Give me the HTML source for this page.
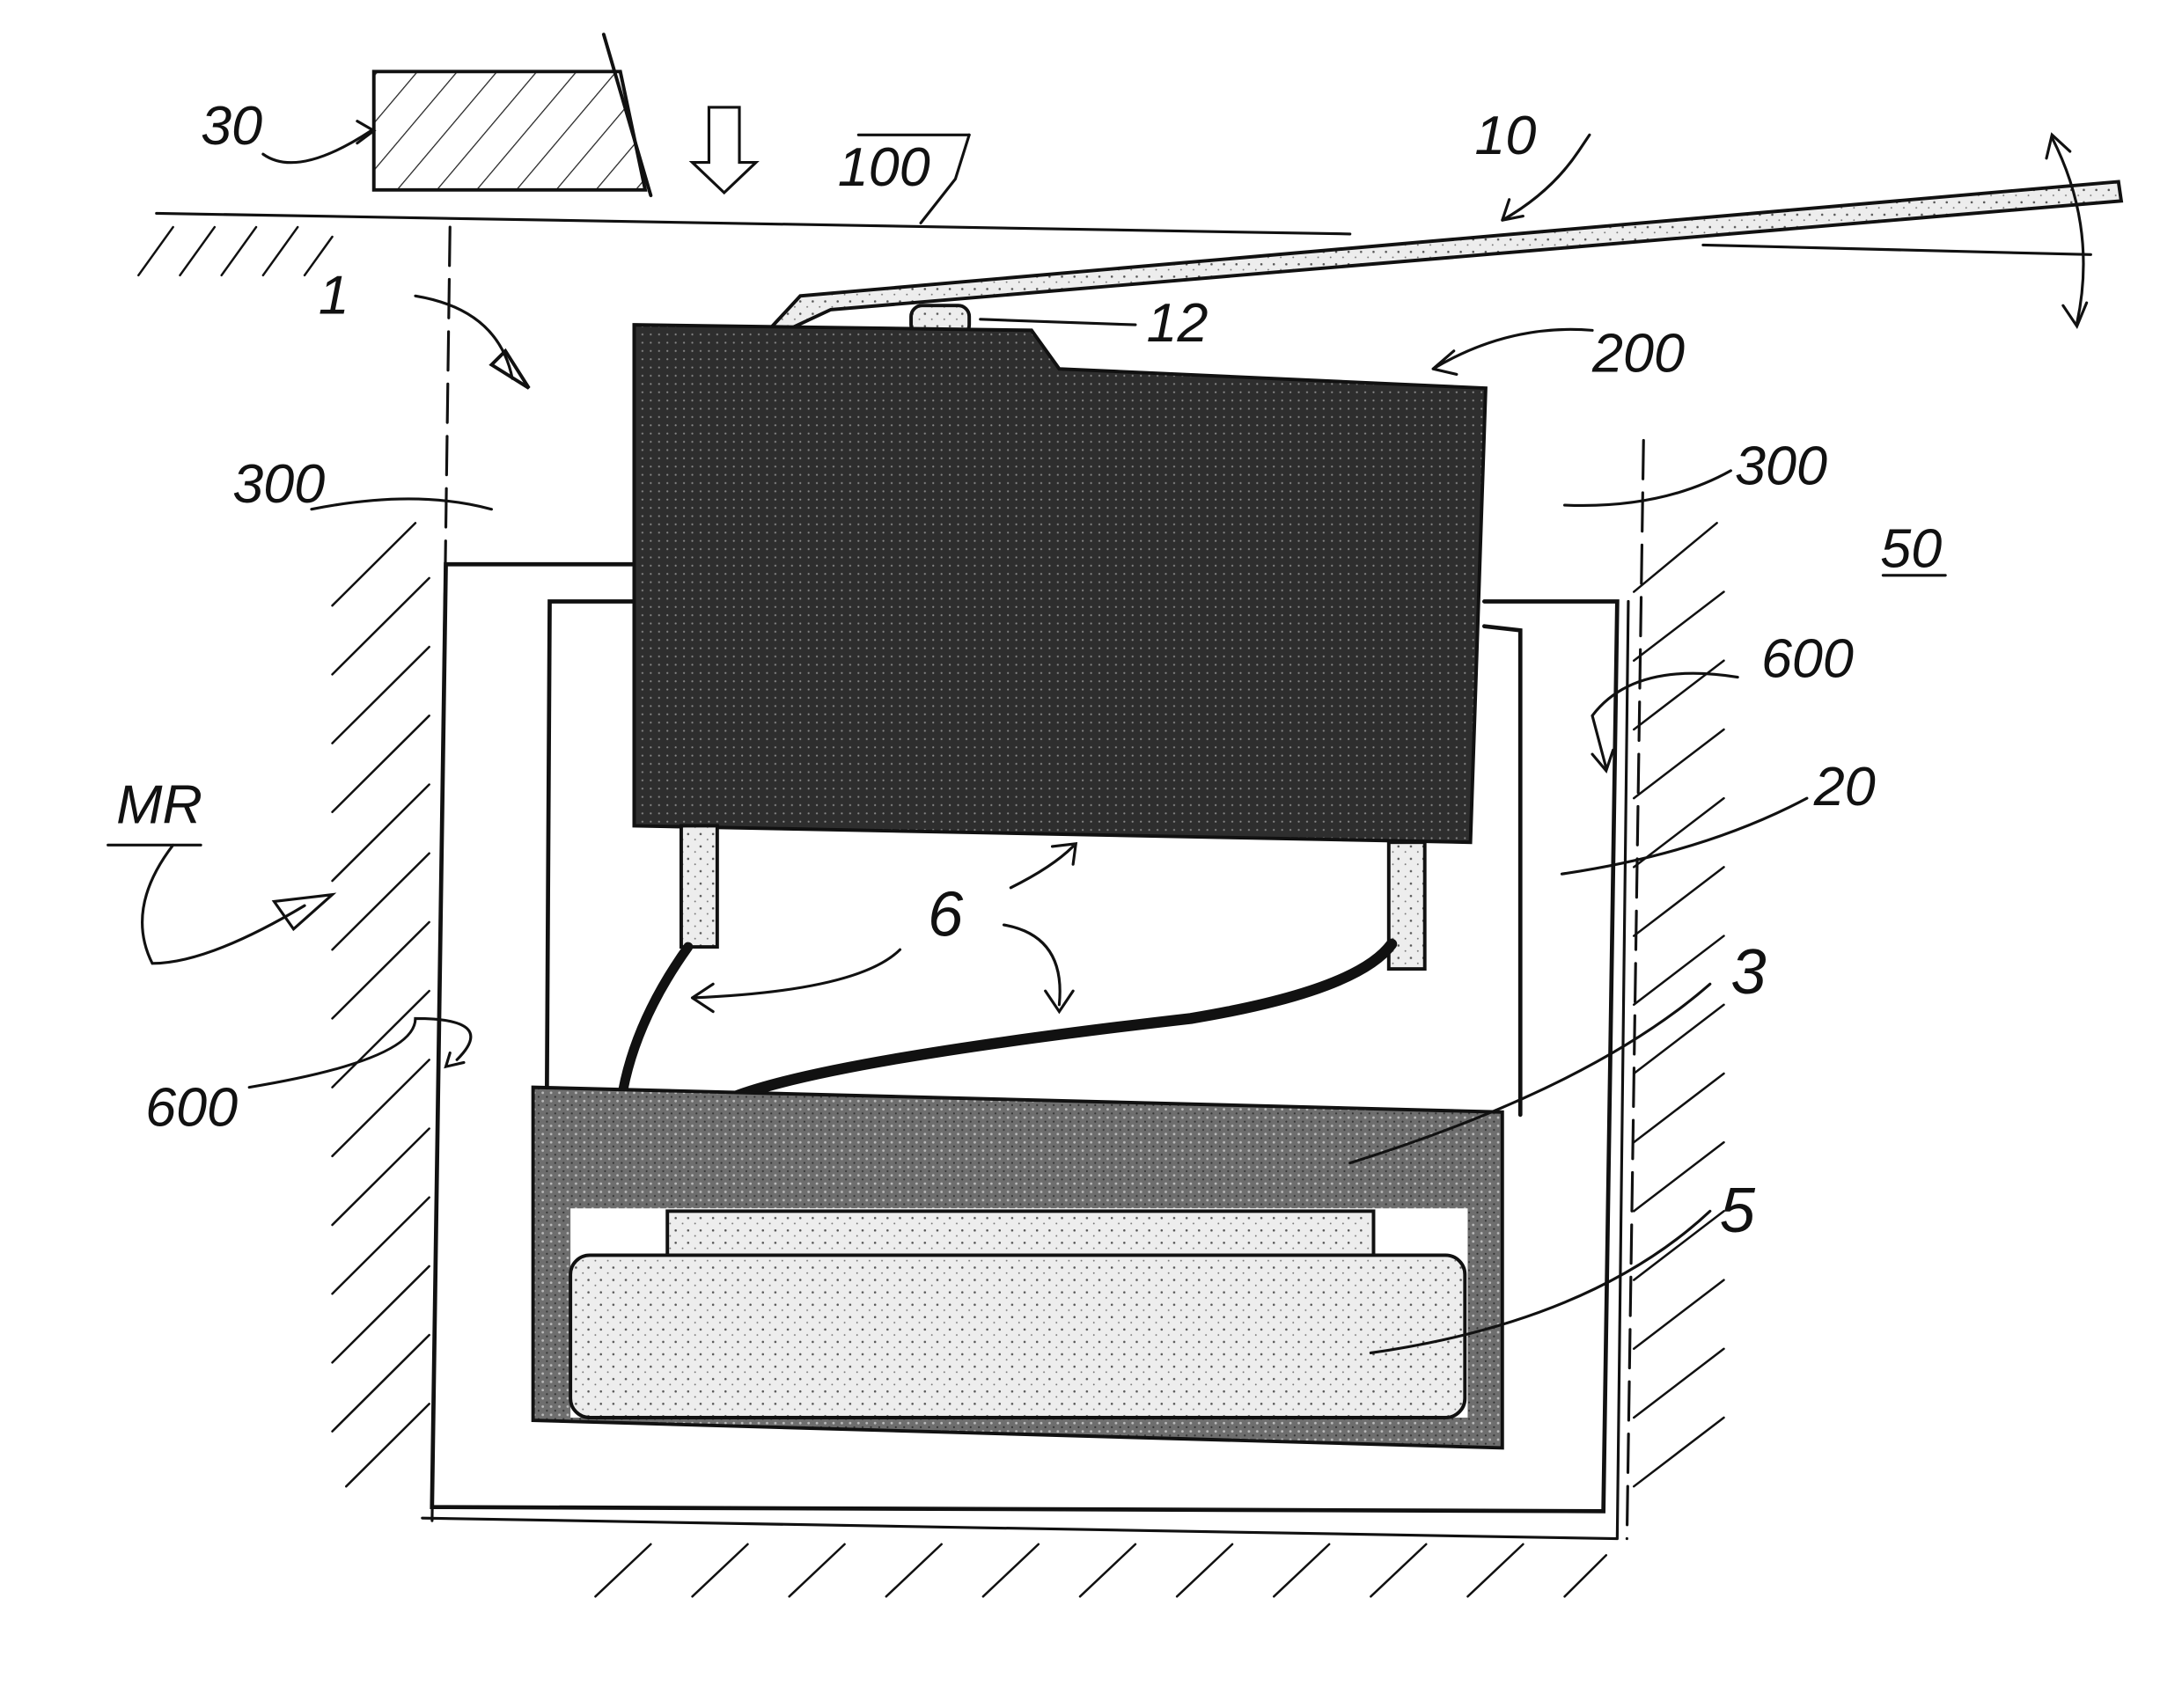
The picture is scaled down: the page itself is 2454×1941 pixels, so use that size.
<!DOCTYPE html>
<html><head><meta charset="utf-8"><style>
html,body{margin:0;padding:0;background:#fff;}
svg{display:block;}
text{font-family:"Liberation Sans",sans-serif;font-style:italic;font-size:40px;fill:#111;}
</style></head><body>
<svg width="2454" height="1941" viewBox="0 0 1560 1241" preserveAspectRatio="none" xmlns="http://www.w3.org/2000/svg">
<defs>
<pattern id="h" width="22" height="22" patternUnits="userSpaceOnUse" patternTransform="rotate(40)">
<line x1="0" y1="0" x2="0" y2="22" stroke="#222" stroke-width="1.6"/></pattern>
<pattern id="dk" width="6" height="6" patternUnits="userSpaceOnUse">
<rect width="6" height="6" fill="#2e2e2e"/><circle cx="2" cy="3" r="0.7" fill="#888"/></pattern>
<pattern id="md" width="6" height="6" patternUnits="userSpaceOnUse">
<rect width="6" height="6" fill="#6e6e6e"/><circle cx="2" cy="2" r="0.9" fill="#bbb"/><circle cx="5" cy="5" r="0.7" fill="#333"/></pattern>
<pattern id="lt" width="9" height="9" patternUnits="userSpaceOnUse">
<rect width="9" height="9" fill="#ededed"/><circle cx="2" cy="3" r="0.8" fill="#555"/><circle cx="7" cy="7" r="0.6" fill="#777"/></pattern>
</defs>
<g stroke="#111" stroke-width="2.5" fill="none" stroke-linecap="round">
<path d="M270 52 L448 52 L466 138 L270 138 Z" fill="url(#h)"/>
<line x1="436" y1="25" x2="470" y2="142"/>
<path d="M512 78 L534 78 L534 118 L546 118 L523 140 L500 118 L512 118 Z" stroke-width="2"/>
<line x1="113" y1="155" x2="975" y2="170" stroke-width="2"/>
<path d="M100 200 L125 165 M130 200 L155 165 M160 200 L185 165 M190 200 L215 165 M220 200 L240 172" stroke-width="1.6"/>
<line x1="325" y1="165" x2="312" y2="1110" stroke-dasharray="28 10" stroke-width="2"/>
<line x1="1187" y1="320" x2="1175" y2="1118" stroke-dasharray="28 10" stroke-width="2"/>
<path d="M240 440 L300 380 M240 490 L310 420 M240 540 L310 470 M240 590 L310 520 M240 640 L310 570 M240 690 L310 620 M240 740 L310 670 M240 790 L310 720 M240 840 L310 770 M240 890 L310 820 M240 940 L310 870 M240 990 L310 920 M240 1040 L310 970 M250 1080 L310 1020" stroke-width="1.6"/>
<path d="M1180 430 L1240 380 M1180 480 L1245 430 M1180 530 L1245 480 M1180 580 L1245 530 M1180 630 L1245 580 M1180 680 L1245 630 M1180 730 L1245 680 M1180 780 L1245 730 M1180 830 L1245 780 M1180 880 L1245 830 M1180 930 L1245 880 M1180 980 L1245 930 M1180 1030 L1245 980 M1180 1080 L1245 1030" stroke-width="1.6"/>
<path d="M430 1160 L470 1122 M500 1160 L540 1122 M570 1160 L610 1122 M640 1160 L680 1122 M710 1160 L750 1122 M780 1160 L820 1122 M850 1160 L890 1122 M920 1160 L960 1122 M990 1160 L1030 1122 M1060 1160 L1100 1122 M1130 1160 L1160 1130" stroke-width="1.6"/>
<path d="M458 410 L322 410 L312 1095 L1158 1098 L1168 437 L1072 437" stroke-width="3"/>
<path d="M305 1103 L1168 1118 M1176 437 L1168 1118" stroke-width="2"/>
<path d="M458 437 L397 437 L395 790 M1072 455 L1098 458 L1098 810" stroke-width="3"/>
<path d="M555 240 L578 215 L1530 132 L1532 146 L600 225 L568 240 Z" fill="url(#lt)" stroke-width="2.5"/>
<line x1="1230" y1="178" x2="1510" y2="185" stroke-width="2"/>
<path d="M1482 100 Q1515 165 1500 235" stroke-width="2"/>
<path d="M1478 115 L1482 98 L1495 110 M1490 222 L1500 237 L1507 220" stroke-width="2"/>
<rect x="658" y="222" width="42" height="22" rx="8" fill="url(#lt)"/>
<path d="M458 236 L745 240 L765 268 L1073 282 L1062 612 L458 600 Z" fill="url(#dk)" stroke-width="2.5"/>
<rect x="492" y="600" width="26" height="88" fill="url(#lt)"/>
<rect x="1003" y="612" width="26" height="92" fill="url(#lt)"/>
<path d="M497 688 Q460 740 450 792" stroke-width="7"/>
<path d="M1005 686 Q980 720 860 740 Q600 770 530 797" stroke-width="8"/>
<path d="M385 790 L1085 808 L1085 1052 L385 1032 Z" fill="url(#md)" stroke-width="2.5"/>
<rect x="412" y="878" width="648" height="152" fill="#fff" stroke="none"/>
<rect x="482" y="880" width="510" height="45" fill="url(#lt)" stroke-width="2.5"/>
<rect x="412" y="912" width="646" height="118" rx="14" fill="url(#lt)" stroke-width="2.5"/>
<path d="M190 112 Q215 130 268 95" stroke-width="2"/><path d="M258 88 L270 95 L258 104" stroke-width="2"/>
<path d="M665 162 L690 130 L700 98" stroke-width="2"/><path d="M620 98 L700 98" stroke-width="2"/>
<path d="M1085 160 Q1120 140 1140 110 L1148 98 M1085 160 L1090 145 M1085 160 L1100 157" stroke-width="2"/>
<path d="M300 215 Q360 225 370 275" stroke-width="2"/><path d="M355 265 L382 282 L365 255 Z"/>
<path d="M708 232 L820 236 M1035 268 Q1090 235 1150 240 M1035 268 L1050 255 M1035 268 L1052 272" stroke-width="2"/>
<path d="M225 370 Q300 355 355 370 M1130 367 Q1200 370 1250 342" stroke-width="2"/>
<path d="M1360 418 L1405 418" stroke-width="2"/>
<path d="M1255 492 Q1180 480 1150 520 L1160 558 M1150 548 L1160 560 L1165 545" stroke-width="2"/>
<path d="M1128 635 Q1230 620 1305 580" stroke-width="2"/>
<path d="M78 614 L145 614 M125 614 Q90 660 110 700 Q150 700 220 658 M198 655 L240 650 L212 675 Z" stroke-width="2"/>
<path d="M650 690 Q620 720 500 725 M500 725 L515 715 M500 725 L515 735" stroke-width="2"/>
<path d="M730 645 Q760 630 775 615 M760 615 L777 613 L775 628" stroke-width="2"/>
<path d="M725 672 Q770 680 765 730 M755 720 L765 735 L775 720" stroke-width="2"/>
<path d="M975 845 Q1150 790 1235 715 M990 983 Q1150 960 1235 880" stroke-width="2"/>
<path d="M180 790 Q300 770 300 740 Q360 740 330 770 M325 765 L322 775 L335 772" stroke-width="2"/>
</g>
<text x="145" y="105">30</text>
<text x="605" y="135">100</text>
<text x="1065" y="112">10</text>
<text x="230" y="228">1</text>
<text x="828" y="248">12</text>
<text x="1150" y="270">200</text>
<text x="168" y="365">300</text>
<text x="1253" y="352">300</text>
<text x="1358" y="412">50</text>
<text x="1272" y="492">600</text>
<text x="1310" y="585">20</text>
<text x="84" y="598">MR</text>
<text x="670" y="680" style="font-size:46px">6</text>
<text x="1250" y="722" style="font-size:46px">3</text>
<text x="1242" y="895" style="font-size:46px">5</text>
<text x="105" y="818">600</text>
</svg>
</body></html>
